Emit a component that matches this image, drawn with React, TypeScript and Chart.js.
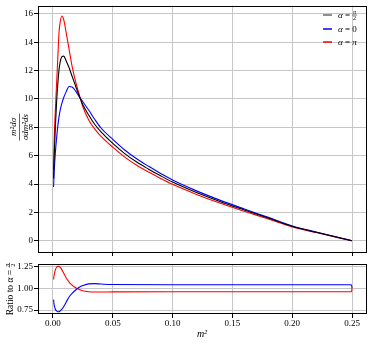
import React, { useEffect, useRef } from "react";
import { Chart, registerables } from "chart.js";
Chart.register(...registerables);

// ---- data ----
const m2Values = [0.0005, 0.001, 0.002, 0.003, 0.004, 0.005, 0.006, 0.0075, 0.009, 0.011, 0.0135, 0.016, 0.019, 0.022, 0.025, 0.03, 0.035, 0.04, 0.05, 0.06, 0.07, 0.08, 0.09, 0.10, 0.12, 0.14, 0.16, 0.18, 0.20, 0.22, 0.24, 0.25];
const alphaPiHalf = [4.4, 5.9, 8.0, 9.7, 11.0, 12.0, 12.6, 12.98, 13.02, 12.7, 12.2, 11.6, 10.9, 10.2, 9.6, 8.85, 8.2, 7.7, 6.87, 6.15, 5.55, 5.05, 4.58, 4.14, 3.4, 2.75, 2.17, 1.6, 1.02, 0.6, 0.2, 0];
const alphaZero = [3.8, 4.8, 6.2, 7.2, 8.05, 8.7, 9.2, 9.7, 10.1, 10.5, 10.88, 10.85, 10.55, 10.15, 9.8, 9.2, 8.55, 7.97, 7.15, 6.4, 5.78, 5.25, 4.75, 4.28, 3.52, 2.85, 2.24, 1.65, 1.05, 0.62, 0.21, 0];
const alphaPi = [5.0, 7.0, 9.2, 11.0, 12.8, 14.6, 15.4, 15.85, 15.6, 14.7, 13.5, 12.3, 11.2, 10.3, 9.45, 8.5, 7.87, 7.38, 6.6, 5.9, 5.33, 4.85, 4.4, 3.98, 3.27, 2.64, 2.08, 1.54, 0.98, 0.58, 0.19, 0];

const ratioM2 = [0.0005, 0.001, 0.002, 0.003, 0.004, 0.005, 0.006, 0.0075, 0.009, 0.011, 0.0135, 0.016, 0.019, 0.022, 0.025, 0.03, 0.035, 0.04, 0.05, 0.10, 0.15, 0.20, 0.2495, 0.25];
const ratioZero = [0.87, 0.81, 0.76, 0.74, 0.73, 0.73, 0.74, 0.76, 0.79, 0.84, 0.90, 0.94, 0.98, 1.01, 1.03, 1.05, 1.052, 1.048, 1.042, 1.04, 1.04, 1.04, 1.04, 1.0];
const ratioPi = [1.10, 1.15, 1.21, 1.24, 1.25, 1.25, 1.24, 1.21, 1.17, 1.12, 1.07, 1.035, 1.005, 0.985, 0.97, 0.96, 0.957, 0.957, 0.958, 0.96, 0.96, 0.96, 0.96, 1.0];

const seriesLabels = ["α = π/2", "α = 0", "α = π"];
const seriesColors = ["#000000", "#0000ff", "#ff0000"];

const SERIF = "'Liberation Serif', 'DejaVu Serif', serif";
const GRID = "#c6c6c6";

function drawFrac(ctx: CanvasRenderingContext2D, x: number, baseY: number, top: string, bottom: string, size: number) {
  ctx.font = `italic ${size}px ${SERIF}`;
  const wt = ctx.measureText(top).width;
  ctx.font = `${size}px ${SERIF}`;
  const wb = ctx.measureText(bottom).width;
  const w = Math.max(wt, wb) + 1.5;
  const lineY = baseY - 3;
  ctx.textAlign = "center";
  ctx.textBaseline = "alphabetic";
  ctx.font = `italic ${size}px ${SERIF}`;
  ctx.fillText(top, x + w / 2, lineY - 0.8);
  ctx.font = `${size}px ${SERIF}`;
  ctx.fillText(bottom, x + w / 2, lineY + size * 0.75 + 0.8);
  ctx.fillRect(x, lineY - 0.3, w, 0.6);
  ctx.textAlign = "left";
  return w;
}

type Seg = { t: string; italic?: boolean; frac?: [string, string] };

function segWidth(ctx: CanvasRenderingContext2D, segs: Seg[], size: number) {
  let w = 0;
  for (const s of segs) {
    if (s.frac) {
      ctx.font = `${size * 0.68}px ${SERIF}`;
      w += Math.max(ctx.measureText(s.frac[0]).width, ctx.measureText(s.frac[1]).width) + 1.5;
    } else {
      ctx.font = `${s.italic ? "italic " : ""}${size}px ${SERIF}`;
      w += ctx.measureText(s.t).width;
    }
  }
  return w;
}

function drawSegs(ctx: CanvasRenderingContext2D, segs: Seg[], x: number, baseY: number, size: number) {
  let cx = x;
  for (const s of segs) {
    if (s.frac) {
      cx += drawFrac(ctx, cx, baseY, s.frac[0], s.frac[1], size * 0.68);
    } else {
      ctx.font = `${s.italic ? "italic " : ""}${size}px ${SERIF}`;
      ctx.textAlign = "left";
      ctx.textBaseline = "alphabetic";
      ctx.fillText(s.t, cx, baseY);
      cx += ctx.measureText(s.t).width;
    }
  }
}

const legendSegs: Seg[][] = [
  [{ t: "α", italic: true }, { t: " = " }, { t: "", frac: ["π", "2"] }],
  [{ t: "α", italic: true }, { t: " = " }, { t: "0" }],
  [{ t: "α", italic: true }, { t: " = " }, { t: "π", italic: true }],
];

const framePlugin = {
  id: "frame",
  afterDatasetsDraw(chart: any) {
    const { ctx, chartArea: a } = chart;
    ctx.save();
    ctx.strokeStyle = "#000";
    ctx.lineWidth = 1;
    ctx.strokeRect(Math.round(a.left) + 0.5, Math.round(a.top) + 0.5, Math.round(a.right - a.left) - 1, Math.round(a.bottom - a.top) - 1);
    ctx.restore();
  },
};

const mainDecor = {
  id: "mainDecor",
  afterDraw(chart: any) {
    const { ctx } = chart;
    ctx.save();
    // legend
    const rows = [15, 29, 42];
    const handleColors = ["#6a6a6a", "#0000ff", "#ff0000"];
    rows.forEach((y, i) => {
      ctx.strokeStyle = handleColors[i];
      ctx.lineWidth = 1.5;
      ctx.beginPath();
      ctx.moveTo(323, y);
      ctx.lineTo(332, y);
      ctx.stroke();
      ctx.fillStyle = "#000";
      drawSegs(ctx, legendSegs[i], 338, y + 3, 9);
    });
    // y label fraction
    ctx.translate(19.5, 127);
    ctx.rotate(-Math.PI / 2);
    ctx.fillStyle = "#000";
    ctx.textAlign = "center";
    ctx.textBaseline = "alphabetic";
    ctx.font = `italic 9px ${SERIF}`;
    ctx.fillText("m²dσ", 0, -3.5);
    ctx.fillText("σdm²ds", 0, 8.5);
    const w = ctx.measureText("σdm²ds").width + 1;
    ctx.fillRect(-w / 2, -0.3, w, 0.6);
    ctx.restore();
  },
};

const ratioDecor = {
  id: "ratioDecor",
  afterDraw(chart: any) {
    const { ctx } = chart;
    ctx.save();
    ctx.fillStyle = "#000";
    // x title
    ctx.font = `italic 10px ${SERIF}`;
    ctx.textAlign = "center";
    ctx.textBaseline = "middle";
    ctx.fillText("m²", 202, 76);
    // y title
    const segs: Seg[] = [{ t: "Ratio to " }, { t: "α", italic: true }, { t: " = " }, { t: "", frac: ["π", "2"] }];
    ctx.translate(9.5, 31);
    ctx.rotate(-Math.PI / 2);
    const w = segWidth(ctx, segs, 9.5);
    drawSegs(ctx, segs, -w / 2, 3, 9.5);
    ctx.restore();
  },
};

export default function App() {
  const topRef = useRef<HTMLCanvasElement>(null);
  const botRef = useRef<HTMLCanvasElement>(null);

  useEffect(() => {
    const pts = (xs: number[], ys: number[]) => xs.map((x, i) => ({ x, y: ys[i] }));
    const tickFont = { family: SERIF, size: 9, lineHeight: 1 };
    const lineDs = (label: string, data: any, color: string) => ({
      label,
      data,
      borderColor: color,
      backgroundColor: color,
      borderWidth: 1.1,
      pointRadius: 0,
      fill: false,
      cubicInterpolationMode: "monotone" as const,
    });

    const main = new Chart(topRef.current!, {
      type: "line",
      data: {
        datasets: [
          lineDs(seriesLabels[0], pts(m2Values, alphaPiHalf), seriesColors[0]),
          lineDs(seriesLabels[1], pts(m2Values, alphaZero), seriesColors[1]),
          lineDs(seriesLabels[2], pts(m2Values, alphaPi), seriesColors[2]),
        ],
      },
      options: {
        animation: false,
        responsive: false,
        devicePixelRatio: 1,
        layout: { padding: { top: 5, right: 6, left: 0, bottom: 0 } },
        plugins: { legend: { display: false }, tooltip: { enabled: false } },
        scales: {
          x: {
            type: "linear",
            min: -0.0125,
            max: 0.2625,
            afterFit: (s: any) => { s.height = 6; },
            ticks: { display: false, stepSize: 0.05, includeBounds: false },
            grid: { color: GRID, tickColor: "#000", tickLength: 4, drawTicks: true },
            border: { display: false },
          },
          y: {
            type: "linear",
            min: -0.79,
            max: 16.59,
            afterFit: (s: any) => { s.width = 38; },
            ticks: { stepSize: 2, includeBounds: false, font: tickFont, color: "#000", padding: 1, callback: (v: any) => String(Math.round(Number(v))) },
            grid: { color: GRID, tickColor: "#000", tickLength: 4, drawTicks: true },
            border: { display: false },
          },
        },
      },
      plugins: [framePlugin, mainDecor],
    });

    const ratio = new Chart(botRef.current!, {
      type: "line",
      data: {
        datasets: [
          lineDs(seriesLabels[1], pts(ratioM2, ratioZero), seriesColors[1]),
          lineDs(seriesLabels[2], pts(ratioM2, ratioPi), seriesColors[2]),
        ],
      },
      options: {
        animation: false,
        responsive: false,
        devicePixelRatio: 1,
        layout: { padding: { top: 6, right: 6, left: 0, bottom: 0 } },
        plugins: { legend: { display: false }, tooltip: { enabled: false } },
        scales: {
          x: {
            type: "linear",
            min: -0.0125,
            max: 0.2625,
            afterFit: (s: any) => { s.height = 30; },
            ticks: { stepSize: 0.05, includeBounds: false, font: tickFont, color: "#000", padding: 1, maxRotation: 0, callback: (v: any) => Number(v).toFixed(2) },
            grid: { color: GRID, tickColor: "#000", tickLength: 4, drawTicks: true },
            border: { display: false },
          },
          y: {
            type: "linear",
            min: 0.705,
            max: 1.277,
            afterFit: (s: any) => { s.width = 38; },
            ticks: { stepSize: 0.25, includeBounds: false, font: tickFont, color: "#000", padding: 1, callback: (v: any) => Number(v).toFixed(2) },
            grid: { color: GRID, tickColor: "#000", tickLength: 4, drawTicks: true },
            border: { display: false },
          },
        },
      },
      plugins: [framePlugin, ratioDecor],
    });

    return () => {
      main.destroy();
      ratio.destroy();
    };
  }, []);

  return (
    <div>
      <canvas ref={topRef} width={373} height={258} style={{ position: "fixed", left: 0, top: 0 }} />
      <canvas ref={botRef} width={373} height={86} style={{ position: "fixed", left: 0, top: 258 }} />
    </div>
  );
}
